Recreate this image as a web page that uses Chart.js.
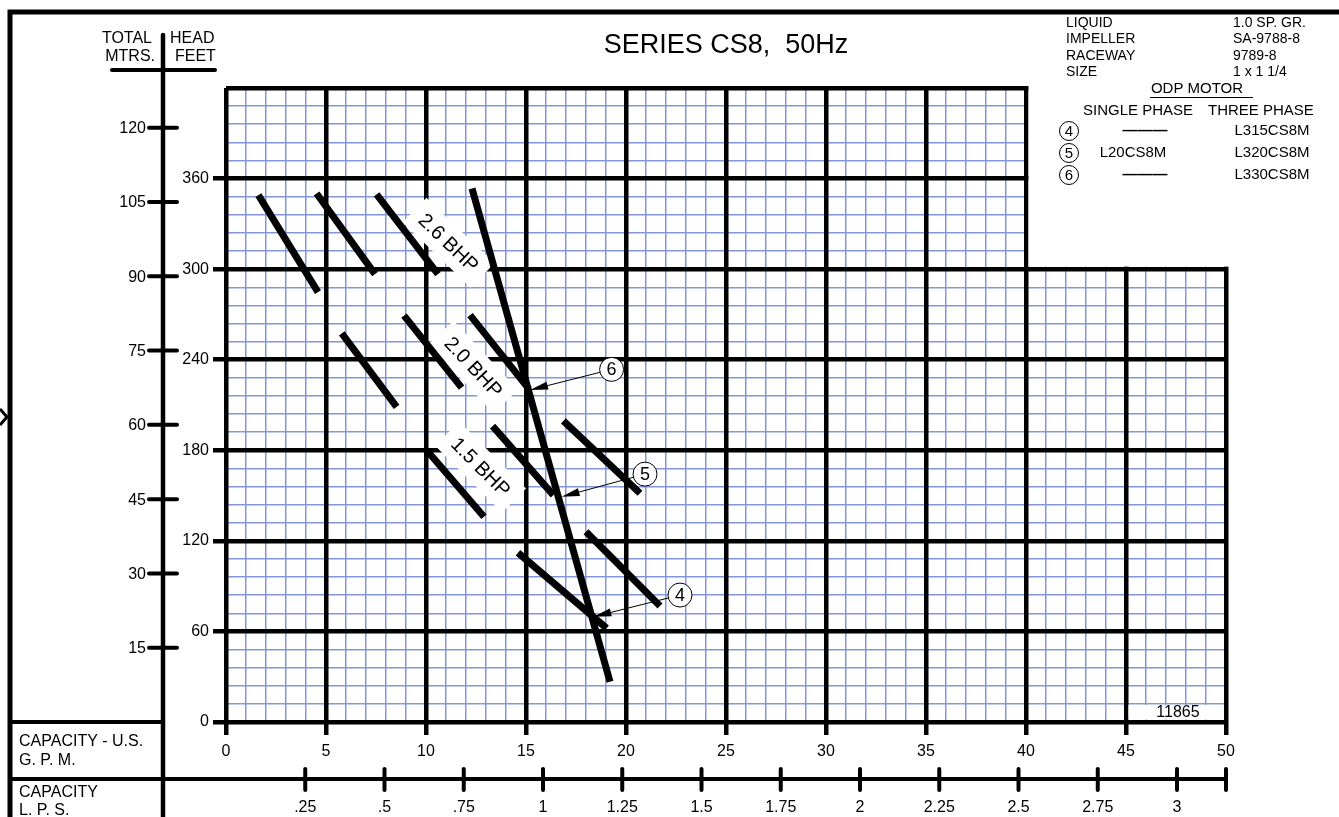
<!DOCTYPE html>
<html>
<head>
<meta charset="utf-8">
<title>SERIES CS8, 50Hz</title>
<script src="https://cdn.jsdelivr.net/npm/chart.js@4.4.1/dist/chart.umd.min.js"></script>
<style>
html,body{margin:0;padding:0;background:#fff;overflow:hidden;}
#c{display:block;position:absolute;left:0;top:0;}
</style>
</head>
<body>
<canvas id="c" width="1339" height="817"></canvas>
<script>
// ---------- axis ticks / labels ----------
const gpmTicks   = [0,5,10,15,20,25,30,35,40,45,50];
const feetTicks  = [0,60,120,180,240,300,360];
const metreTicks = [15,30,45,60,75,90,105,120];
const lpsTicks   = [0.25,0.5,0.75,1,1.25,1.5,1.75,2,2.25,2.5,2.75,3];
const lpsLabels  = ['.25','.5','.75','1','1.25','1.5','1.75','2','2.25','2.5','2.75','3'];

// ---------- pump curves: x = US GPM, y = feet; y:null = gap between dashes ----------
const curve6 = [
  {x:7.53,y:349.5},{x:10.6,y:296.7},{x:10.6,y:null},
  {x:12.2,y:269.5},{x:15.15,y:220.5},{x:15.15,y:null},
  {x:16.87,y:199.5},{x:20.7,y:151.5}
];
const curve5 = [
  {x:4.53,y:350.1},{x:7.45,y:296.7},{x:7.45,y:null},
  {x:8.9,y:269.2},{x:11.78,y:221.5},{x:11.78,y:null},
  {x:13.33,y:196.0},{x:16.37,y:150.3},{x:16.37,y:null},
  {x:18.0,y:126.0},{x:21.7,y:76.8}
];
const curve4 = [
  {x:1.62,y:349.0},{x:4.6,y:284.8},{x:4.6,y:null},
  {x:5.79,y:257.4},{x:8.53,y:208.8},{x:8.53,y:null},
  {x:10.1,y:179.0},{x:12.9,y:136.0},{x:12.9,y:null},
  {x:14.6,y:112.1},{x:19.03,y:62.1}
];
const limitLine = [{x:12.3,y:353.4},{x:19.2,y:26.7}];

// ---------- annotations (data coordinates) ----------
const modelTags  = ['6','5','4'];
const tagCenters = [{x:19.28,y:233.6},{x:20.95,y:164.2},{x:22.7,y:84.1}];
const tagTargets = [{x:15.2,y:219.9},{x:16.78,y:149.2},{x:18.37,y:69.7}];
const bhpText    = ['2.6 BHP','2.0 BHP','1.5 BHP'];
const bhpAt      = [{x:11.13,y:317.5},{x:12.37,y:235.2},{x:12.73,y:168.9}];
const bhpAngle   = [44,47,45];

// ---------- info block ----------
const infoKeys   = ['LIQUID','IMPELLER','RACEWAY','SIZE'];
const infoValues = ['1.0 SP. GR.','SA-9788-8','9789-8','1 x 1 1/4'];
const motorTags  = ['4','5','6'];
const singlePh   = ['———','L20CS8M','———'];
const threePh    = ['L315CS8M','L320CS8M','L330CS8M'];

const GPM_PER_LPS = 15.8503;
const FT_PER_M = 3.28084;
const FONT = '"Liberation Sans", Arial, Helvetica, sans-serif';

function txt(ctx, s, x, y, size, align, base, weight){
  ctx.font = (weight ? weight + ' ' : '') + size + 'px ' + FONT;
  ctx.textAlign = align || 'left';
  ctx.textBaseline = base || 'middle';
  ctx.fillText(s, x, y);
}
function pl(ctx, pts, w, cap){
  ctx.beginPath();
  ctx.lineWidth = w;
  ctx.lineCap = cap || 'butt';
  ctx.moveTo(pts[0], pts[1]);
  for (let i = 2; i < pts.length; i += 2) ctx.lineTo(pts[i], pts[i+1]);
  ctx.stroke();
}
function circ(ctx, cx, cy, r, label, size){
  ctx.beginPath();
  ctx.arc(cx, cy, r, 0, Math.PI*2);
  ctx.fillStyle = '#fff'; ctx.fill();
  ctx.lineWidth = 1; ctx.strokeStyle = '#000'; ctx.stroke();
  ctx.fillStyle = '#000';
  txt(ctx, label, cx, cy + 1, size, 'center');
}

const sheet = {
  id: 'sheet',
  beforeDatasetsDraw(chart){
    const {ctx} = chart;
    const X = v => chart.scales.x.getPixelForValue(v);
    const Y = v => chart.scales.y.getPixelForValue(v);
    ctx.save();
    ctx.fillStyle = '#fff';
    // top-right: grid stops at 300 ft beyond 40 GPM
    ctx.fillRect(X(40) + 2.5, Y(420) - 4, X(50) - X(40) + 6, (Y(300) - 2.5) - (Y(420) - 4));
    // drawing-number box
    ctx.fillRect(X(45) + 2.5, Y(12) + 1, X(50) - X(45) - 5, Y(0) - Y(12) - 3.5);
    ctx.fillStyle = '#000';
    txt(ctx, '11865', (X(45) + X(50)) / 2 + 2, (Y(0) + Y(12)) / 2, 16, 'center');
    // BHP labels with white rotated boxes
    bhpText.forEach((s, i) => {
      const cx = X(bhpAt[i].x), cy = Y(bhpAt[i].y);
      ctx.save();
      ctx.translate(cx, cy);
      ctx.rotate(bhpAngle[i] * Math.PI / 180);
      ctx.font = '20px ' + FONT;
      const w = ctx.measureText(s).width;
      ctx.fillStyle = '#fff';
      ctx.fillRect(-w/2 - 10, -17, w + 20, 34);
      ctx.fillStyle = '#000';
      txt(ctx, s, 0, 1, 20, 'center');
      ctx.restore();
    });
    ctx.restore();
  },
  afterDraw(chart){
    const {ctx} = chart;
    const X = v => chart.scales.x.getPixelForValue(v);
    const Y = v => chart.scales.y.getPixelForValue(v);
    ctx.save();
    ctx.strokeStyle = '#000'; ctx.fillStyle = '#000';

    // model tags with arrows
    modelTags.forEach((t, i) => {
      const cx = X(tagCenters[i].x), cy = Y(tagCenters[i].y);
      const tx = X(tagTargets[i].x), ty = Y(tagTargets[i].y);
      const dx = tx - cx, dy = ty - cy, L = Math.hypot(dx, dy);
      const ux = dx / L, uy = dy / L, r = 12;
      pl(ctx, [cx + ux*r, cy + uy*r, tx - ux*10, ty - uy*10], 1);
      ctx.beginPath();
      ctx.moveTo(tx, ty);
      ctx.lineTo(tx - ux*18 - uy*4, ty - uy*18 + ux*4);
      ctx.lineTo(tx - ux*18 + uy*4, ty - uy*18 - ux*4);
      ctx.closePath(); ctx.fill();
      circ(ctx, cx, cy, r, t, 18);
    });

    // outer frame
    pl(ctx, [10, 817, 10, 12, 1339, 12], 5, 'square');
    pl(ctx, [0, 409, 7, 417, 0, 425], 3);

    // metres axis
    const mx = 163;
    pl(ctx, [mx, 35, mx, 817], 4.5, 'round');
    pl(ctx, [112, 70, 215, 70], 4, 'round');
    metreTicks.forEach(m => {
      const yy = Y(m * FT_PER_M);
      pl(ctx, [149, yy, 177, yy], 4, 'round');
      txt(ctx, String(m), 146, yy + 1, 16, 'right');
    });
    txt(ctx, 'TOTAL', 152, 39, 16, 'right');
    txt(ctx, 'HEAD', 170, 39, 16, 'left');
    txt(ctx, 'MTRS.', 155, 57, 16, 'right');
    txt(ctx, 'FEET', 175, 57, 16, 'left');

    // bottom table
    pl(ctx, [10, Y(0), mx, Y(0)], 4);
    const ly = 779;
    pl(ctx, [10, ly, X(50) + 2, ly], 4);
    lpsTicks.forEach((v, i) => {
      const xx = X(v * GPM_PER_LPS);
      pl(ctx, [xx, 769, xx, 790], 4, 'round');
      txt(ctx, lpsLabels[i], xx, 808, 16, 'center');
    });
    pl(ctx, [X(50), 769, X(50), 790], 4, 'round');
    txt(ctx, 'CAPACITY - U.S.', 19, 742, 16);
    txt(ctx, 'G. P. M.', 19, 761, 16);
    txt(ctx, 'CAPACITY', 19, 793, 16);
    txt(ctx, 'L. P. S.', 19, 811, 16);

    // title
    txt(ctx, 'SERIES CS8,  50Hz', 726, 46, 27, 'center');

    // info block
    infoKeys.forEach((k, i) => {
      txt(ctx, k, 1066, 23 + i * 16.5, 14);
      txt(ctx, infoValues[i], 1233, 23 + i * 16.5, 14);
    });
    txt(ctx, 'ODP MOTOR', 1197, 89, 15, 'center');
    pl(ctx, [1150, 97.5, 1253, 97.5], 1);
    txt(ctx, 'SINGLE PHASE', 1083, 111, 15);
    txt(ctx, 'THREE PHASE', 1208, 111, 15);
    motorTags.forEach((t, i) => {
      const yy = 131 + i * 22;
      circ(ctx, 1069, yy, 9.5, t, 15);
      if (singlePh[i] === '———') {
        txt(ctx, singlePh[i], 1145, yy, 15, 'center', 'middle', 'bold');
      } else {
        txt(ctx, singlePh[i], 1133, yy, 15, 'center');
      }
      txt(ctx, threePh[i], 1272, yy, 15, 'center');
    });
    ctx.restore();
  }
};

const minorGrid = 'rgb(130,150,218)';
const tickFont = {family: FONT, size: 16};

const lineDs = (label, data) => ({
  label, data, showLine: true, borderColor: '#000', backgroundColor: '#000',
  borderWidth: 7, pointRadius: 0, borderCapStyle: 'butt', spanGaps: false,
  xAxisID: 'x', yAxisID: 'y'
});

new Chart(document.getElementById('c'), {
  type: 'scatter',
  data: {
    datasets: [
      lineDs('Model 6', curve6),
      lineDs('Model 5', curve5),
      lineDs('Model 4', curve4),
      lineDs('Limit', limitLine)
    ]
  },
  options: {
    responsive: false,
    animation: false,
    devicePixelRatio: 1,
    events: [],
    layout: {padding: {left: 176, right: 113, top: 88, bottom: 35}},
    plugins: {legend: {display: false}, tooltip: {enabled: false}, title: {display: false}},
    scales: {
      x: {
        type: 'linear', position: 'bottom', min: 0, max: 50,
        ticks: {display: false, stepSize: 1},
        grid: {color: minorGrid, lineWidth: 1.5, drawTicks: false, z: -2},
        border: {display: false},
        afterFit(s){ s.height = 0; }
      },
      y: {
        type: 'linear', position: 'left', min: 0, max: 420,
        ticks: {display: false, stepSize: 12},
        grid: {color: minorGrid, lineWidth: 1.5, drawTicks: false, z: -2},
        border: {display: false},
        afterFit(s){ s.width = 0; }
      },
      x2: {
        type: 'linear', position: 'bottom', min: 0, max: 50,
        afterBuildTicks(s){ s.ticks = gpmTicks.map(v => ({value: v})); },
        ticks: {color: '#000', font: tickFont, padding: 7, maxRotation: 0, minRotation: 0, autoSkip: false},
        grid: {color: '#000', lineWidth: 4.5, tickLength: 13, z: -1},
        border: {display: false},
        afterFit(s){ s.height = 60; }
      },
      y2: {
        type: 'linear', position: 'left', min: 0, max: 420,
        afterBuildTicks(s){ s.ticks = feetTicks.concat([420]).map(v => ({value: v})); },
        ticks: {color: '#000', font: tickFont, padding: 4, autoSkip: false,
                callback: v => (v === 420 ? '' : String(v))},
        grid: {color: '#000', lineWidth: 4.5, tickLength: 13, z: -1,
               tickColor: c => (c.tick && c.tick.value === 420 ? 'rgba(0,0,0,0)' : '#000')},
        border: {display: false},
        afterFit(s){ s.width = 50; }
      }
    }
  },
  plugins: [sheet]
});
</script>
</body>
</html>
